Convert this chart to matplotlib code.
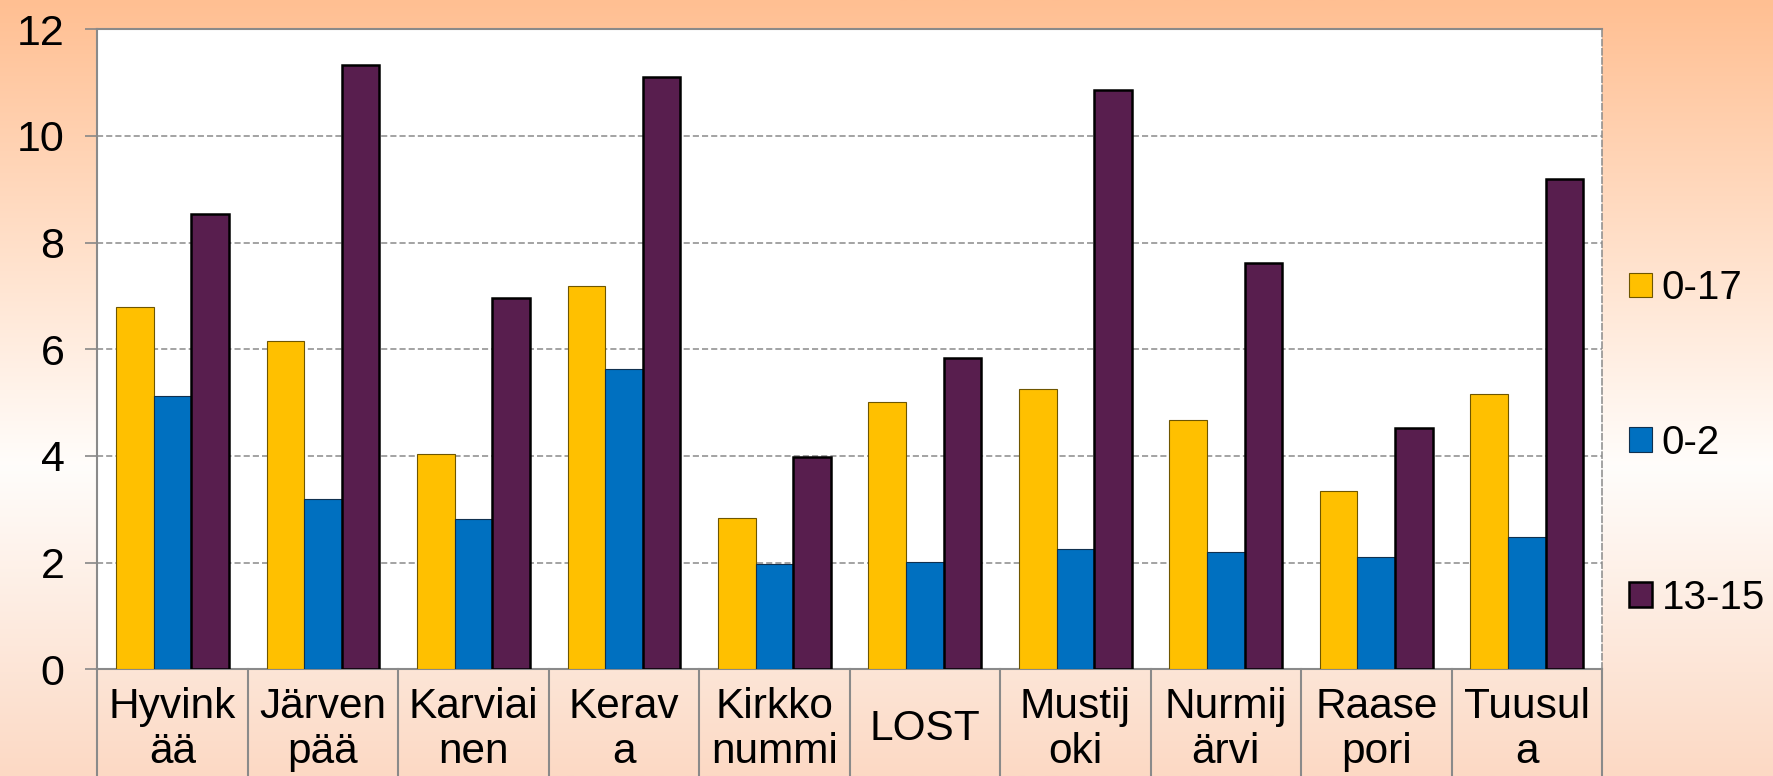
import numpy as np
import matplotlib
matplotlib.use("Agg")
import matplotlib.pyplot as plt
from matplotlib.patches import Patch

plt.rcParams['font.family'] = ['Liberation Sans', 'DejaVu Sans']

# data
categories = ["Hyvink\nää", "Järven\npää", "Karviai\nnen", "Kerav\na", "Kirkko\nnummi",
              "LOST", "Mustij\noki", "Nurmij\närvi", "Raase\npori", "Tuusul\na"]
series_names = ["0-17", "0-2", "13-15"]
v_0_17 = [6.80, 6.16, 4.03, 7.19, 2.83, 5.01, 5.25, 4.67, 3.34, 5.16]
v_0_2 = [5.12, 3.19, 2.81, 5.63, 1.97, 2.01, 2.26, 2.20, 2.10, 2.49]
v_13_15 = [8.54, 11.34, 6.96, 11.11, 3.99, 5.84, 10.86, 7.62, 4.52, 9.19]
yticks = [0, 2, 4, 6, 8, 10, 12]

face = ["#FFC000", "#0070C0", "#581E4E"]
edge = ["#6E5600", "#10304F", "#000000"]
elw = [0.8, 0.8, 1.8]

W, H = 1773, 776
fig = plt.figure(figsize=(W / 100, H / 100), dpi=100)

# background gradient: orange top, white middle, light peach bottom
bg = fig.add_axes([0, 0, 1, 1], zorder=-10)
t = np.linspace(0, 1, 400)
stops_t = [0.0, 0.6, 1.0]
stops_c = np.array([[255, 191, 146], [255, 253, 251], [252, 217, 196]]) / 255
grad = np.stack([np.interp(t, stops_t, stops_c[:, k]) for k in range(3)], axis=1)
bg.imshow(grad[:, None, :], aspect='auto', extent=[0, 1, 0, 1])
bg.axis('off')

left, right = 97.3 / W, 1602 / W
bottom, top = 1 - 669.3 / H, 1 - 29.3 / H
ax = fig.add_axes([left, bottom, right - left, top - bottom])
ax.set_facecolor("white")

x = np.arange(len(categories))
bw = 0.25
for i, vals in enumerate([v_0_17, v_0_2, v_13_15]):
    ax.bar(x + (i - 1) * bw, vals, bw, color=face[i], edgecolor=edge[i],
           linewidth=elw[i], zorder=3 + i)

ax.set_xlim(-0.5, len(categories) - 0.5)
ax.set_ylim(0, 12)
ax.set_yticks(yticks)
ax.set_yticklabels([str(v) for v in yticks], fontsize=31)
ax.tick_params(axis='y', length=8.6, width=1.2, color="#878787", pad=15)
ax.set_xticks([])

grid_col = "#8A8A8A"
ax.yaxis.grid(True, color=grid_col, linestyle=(0, (4, 2)), linewidth=1.1, zorder=1)
for s in ["left", "top", "bottom"]:
    ax.spines[s].set_color(grid_col)
    ax.spines[s].set_linewidth(1.5)
ax.spines["right"].set_color(grid_col)
ax.spines["right"].set_linewidth(1.1)
ax.spines["right"].set_linestyle((0, (4, 2)))

# category boxes below the axis
trans = ax.get_xaxis_transform()
for b in np.arange(len(categories) + 1) - 0.5:
    ax.plot([b, b], [0, -0.3], transform=trans, color=grid_col, lw=1.5, clip_on=False)
for i, lab in enumerate(categories):
    ax.text(i, -60 / 640, lab, transform=trans, ha='center', va='center',
            fontsize=30.5, multialignment='center', linespacing=1.15)

handles = [Patch(facecolor=face[i], edgecolor=edge[i], linewidth=elw[i]) for i in range(3)]
fig.legend(handles, series_names, loc='center left', bbox_to_anchor=(1629 / W, 1 - 443 / H),
           frameon=False, fontsize=29, handlelength=0.56, handleheight=0.56,
           handletextpad=0.25, labelspacing=2.9, borderpad=0, borderaxespad=0)

fig.savefig("out.png", dpi=100)
